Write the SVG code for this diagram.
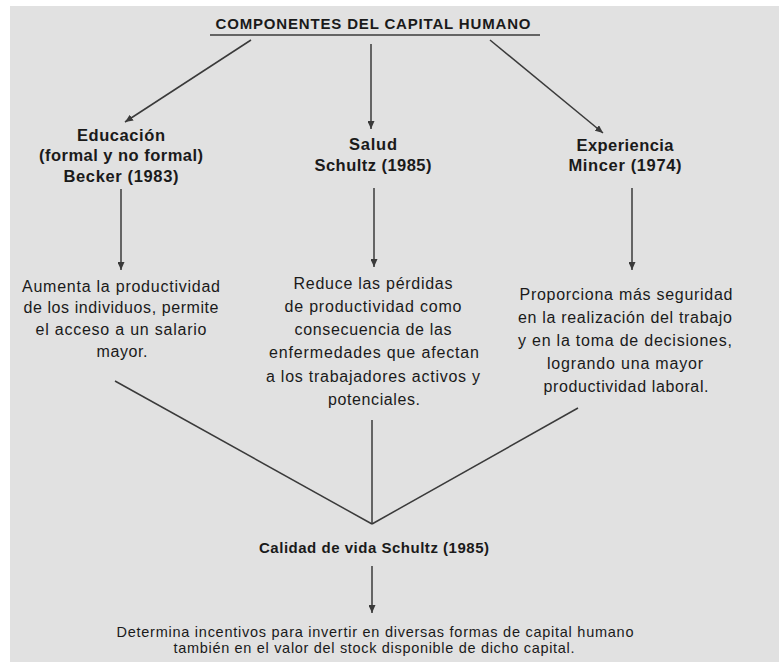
<svg xmlns="http://www.w3.org/2000/svg" width="779" height="662" viewBox="0 0 779 662">
<defs>
<style>
text{font-family:"Liberation Sans",Arial,sans-serif;fill:#1a1a1a;text-anchor:middle}
.t{font-size:15px;font-weight:bold}
.h{font-size:16.5px;font-weight:bold}
.b{font-size:16px}
.s{font-size:14.5px}
.ln{stroke:#3a3a3a;stroke-width:1.5;fill:none}
.ar{stroke:#3a3a3a;stroke-width:1.5;fill:none;marker-end:url(#ah)}
</style>
<marker id="ah" viewBox="0 0 10 10" refX="10" refY="5" markerWidth="8" markerHeight="7" orient="auto" markerUnits="userSpaceOnUse" preserveAspectRatio="none">
<path d="M0,0 L10,5 L0,10 z" fill="#3a3a3a"/>
</marker>
</defs>
<rect x="0" y="0" width="779" height="662" fill="#ffffff"/>
<rect x="10" y="6" width="769" height="656" fill="#e1e1e1"/>
<g id="connectors">
<line class="ln" x1="210" y1="35" x2="540" y2="35"/>
<line class="ar" x1="251" y1="40" x2="125" y2="122"/>
<line class="ar" x1="371" y1="44" x2="371" y2="129"/>
<line class="ar" x1="490" y1="40" x2="603" y2="133"/>
<line class="ar" x1="121" y1="189" x2="121" y2="270"/>
<line class="ar" x1="374" y1="188" x2="374" y2="267"/>
<line class="ar" x1="632" y1="188" x2="632" y2="270"/>
<line class="ln" x1="115" y1="381" x2="372" y2="524"/>
<line class="ln" x1="372" y1="420" x2="372" y2="524"/>
<line class="ln" x1="578" y1="408" x2="372" y2="524"/>
<line class="ar" x1="372" y1="566" x2="372" y2="613"/>
</g>
<g id="title"><text class="t" x="373" y="29" textLength="315" lengthAdjust="spacing">COMPONENTES DEL CAPITAL HUMANO</text></g>
<g id="educacion">
<text class="h" x="121" y="141" textLength="88" lengthAdjust="spacing">Educación</text>
<text class="h" x="121" y="161" textLength="164" lengthAdjust="spacing">(formal y no formal)</text>
<text class="h" x="121" y="182" textLength="115" lengthAdjust="spacing">Becker (1983)</text>
</g>
<g id="salud">
<text class="h" x="373" y="150" textLength="48" lengthAdjust="spacing">Salud</text>
<text class="h" x="373" y="171" textLength="117" lengthAdjust="spacing">Schultz (1985)</text>
</g>
<g id="experiencia">
<text class="h" x="625" y="151" textLength="97" lengthAdjust="spacing">Experiencia</text>
<text class="h" x="625" y="171" textLength="113" lengthAdjust="spacing">Mincer (1974)</text>
</g>
<g id="desc-educacion">
<text class="b" x="121" y="292" textLength="198" lengthAdjust="spacing">Aumenta la productividad</text>
<text class="b" x="121" y="313" textLength="195" lengthAdjust="spacing">de los individuos, permite</text>
<text class="b" x="121" y="335" textLength="171" lengthAdjust="spacing">el acceso a un salario</text>
<text class="b" x="122" y="357" textLength="51" lengthAdjust="spacing">mayor.</text>
</g>
<g id="desc-salud">
<text class="b" x="373" y="289" textLength="159" lengthAdjust="spacing">Reduce las pérdidas</text>
<text class="b" x="373" y="312" textLength="177" lengthAdjust="spacing">de productividad como</text>
<text class="b" x="373" y="335" textLength="157" lengthAdjust="spacing">consecuencia de las</text>
<text class="b" x="374" y="358" textLength="210" lengthAdjust="spacing">enfermedades que afectan</text>
<text class="b" x="373" y="382" textLength="214" lengthAdjust="spacing">a los trabajadores activos y</text>
<text class="b" x="374" y="405" textLength="92" lengthAdjust="spacing">potenciales.</text>
</g>
<g id="desc-experiencia">
<text class="b" x="626" y="300" textLength="213" lengthAdjust="spacing">Proporciona más seguridad</text>
<text class="b" x="625" y="323" textLength="214" lengthAdjust="spacing">en la realización del trabajo</text>
<text class="b" x="625" y="346" textLength="214" lengthAdjust="spacing">y en la toma de decisiones,</text>
<text class="b" x="625" y="369" textLength="156" lengthAdjust="spacing">logrando una mayor</text>
<text class="b" x="626" y="392" textLength="165" lengthAdjust="spacing">productividad laboral.</text>
</g>
<g id="calidad"><text class="t" x="374" y="553" textLength="230" lengthAdjust="spacing">Calidad de vida Schultz (1985)</text></g>
<g id="determina">
<text class="s" x="375" y="637" textLength="517" lengthAdjust="spacing">Determina incentivos para invertir en diversas formas de capital humano</text>
<text class="s" x="374" y="653" textLength="401" lengthAdjust="spacing">también en el valor del stock disponible de dicho capital.</text>
</g>
</svg>
